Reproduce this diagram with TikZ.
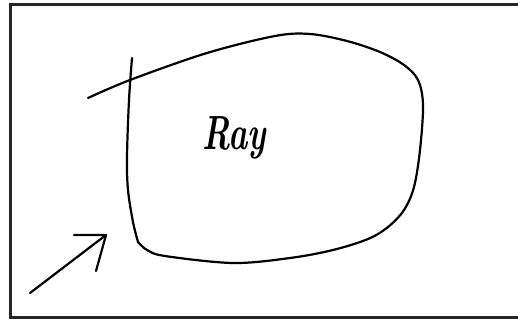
\documentclass[tikz,border=0pt]{standalone}
\begin{document}
\begin{tikzpicture}[x=1pt,y=-1pt,
  ink/.style={line width=2.2pt,line cap=round,line join=round,black},
  framestroke/.style={line width=3pt,black!85}]
\useasboundingbox (0,0) rectangle (518,321);
\fill[white] (0,0) rectangle (518,321);
% frame (open on the right, cut by the page edge)
\draw[framestroke] (530,4.5) -- (10.5,4.5) -- (10.5,317) -- (530,317);
% left stroke
\draw[ink] plot[smooth,tension=0.55] coordinates {
  (132,58) (129,100) (127,157) (128,190) (133,222) (138,242)};
% outline
\draw[ink] plot[smooth,tension=0.55] coordinates {
  (138,242) (147,250) (165,256) (233,263) (290,258) (333,250) (368,239) (388,227)
  (404,210) (414,187) (420,150) (423,105) (418,80) (404,65) (380,52) (347,41)
  (310,34) (275,36) (207,53) (130,80) (88,98)};
% label
\node[font=\bfseries\itshape\fontsize{48}{48}\selectfont, xscale=0.68] (label) at (234,138) {Ray};
% arrow
\coordinate (tail) at (30,293);
\coordinate (tip) at (106,235);
\coordinate (barbA) at (74,235);
\coordinate (barbB) at (96,271);
\draw[ink] (tail) -- (tip);
\draw[ink] (barbA) -- (tip) -- (barbB);
\end{tikzpicture}
\end{document}
